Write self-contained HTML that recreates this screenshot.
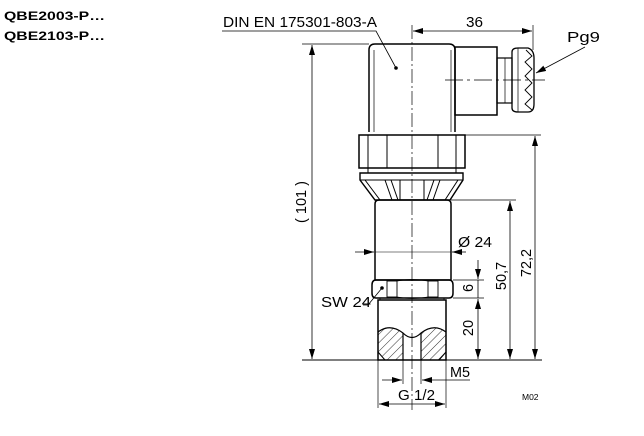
<!DOCTYPE html>
<html><head><meta charset="utf-8"><style>
html,body{margin:0;padding:0;background:#fff;width:644px;height:436px;overflow:hidden}
svg{display:block}
text{font-family:"Liberation Sans",Arial,sans-serif;fill:#000}
</style></head><body>
<svg width="644" height="436" viewBox="0 0 644 436" xmlns="http://www.w3.org/2000/svg">
<defs>
<marker id="a" viewBox="0 0 10 6" refX="10" refY="3" markerWidth="10" markerHeight="6" orient="auto-start-reverse" markerUnits="userSpaceOnUse"><path d="M0,0 L10,3 L0,6 z" fill="#000"/></marker>
<pattern id="h" width="6" height="6" patternUnits="userSpaceOnUse" patternTransform="rotate(45)"><line x1="0" y1="0" x2="0" y2="6" stroke="#000" stroke-width="0.8"/></pattern>
</defs>
<text x="4" y="20" font-size="12" font-weight="bold" textLength="101" lengthAdjust="spacingAndGlyphs">QBE2003-P…</text>
<text x="4" y="40" font-size="12" font-weight="bold" textLength="101" lengthAdjust="spacingAndGlyphs">QBE2103-P…</text>

<g fill="none" stroke="#000" stroke-width="1">
<polyline points="222,31 376,31 396,68" stroke-width="0.8"/>
<line x1="412" y1="25" x2="412" y2="410" stroke-width="0.7" stroke-dasharray="14,3,2,3"/>
<line x1="533" y1="25" x2="533" y2="50" stroke-width="0.7"/>
<line x1="413" y1="31" x2="532" y2="31" stroke-width="0.8" marker-start="url(#a)" marker-end="url(#a)"/>
<path d="M369,132 L369,50 Q369,44 375,44 L449,44 Q455,44 455,50 L455,132" stroke-width="1.5"/>
<line x1="374" y1="50" x2="374" y2="132" stroke-width="0.7"/>
<line x1="451" y1="50" x2="451" y2="132" stroke-width="0.7"/>
<rect x="455" y="47" width="42" height="68" stroke-width="1.5"/>
<rect x="497" y="58" width="15" height="45" stroke-width="1.2"/>
<line x1="505" y1="58" x2="505" y2="103" stroke-width="0.7"/>
<path d="M512,52 Q512,48 518,48 L528,48 Q534,50 534,58 L534,104 Q534,112 528,112 L518,112 Q512,112 512,108 Z" stroke-width="1.3"/>
<path d="M526,50 L532,56 L525,62 L532,69 L525,76 L532,83 L525,90 L532,97 L525,104 L532,110" stroke-width="0.9"/>
<line x1="518" y1="48" x2="518" y2="112" stroke-width="0.7"/>
<line x1="445" y1="80" x2="545" y2="80" stroke-width="0.7" stroke-dasharray="18,4,3,4"/>
<circle cx="396" cy="68" r="1.3" fill="#000"/>
<line x1="585" y1="47" x2="536" y2="73" stroke-width="0.8" marker-end="url(#a)"/>
<rect x="359" y="135" width="106" height="33" stroke-width="1.5"/>
<line x1="368" y1="135" x2="368" y2="168"/>
<line x1="387" y1="135" x2="387" y2="168"/>
<line x1="438" y1="135" x2="438" y2="168"/>
<line x1="456" y1="135" x2="456" y2="168"/>
<rect x="368" y="168" width="88" height="5" stroke-width="1"/>
<path d="M360,173 L463,173 L463,180 L450,200 L375,200 L360,180 Z" stroke-width="1.4"/>
<line x1="360" y1="180" x2="463" y2="180"/>
<line x1="365" y1="180" x2="380" y2="200"/>
<line x1="458" y1="180" x2="445" y2="200"/>
<line x1="385" y1="180" x2="392" y2="200"/>
<line x1="391" y1="180" x2="398" y2="200"/>
<line x1="400" y1="180" x2="400" y2="200"/>
<line x1="424" y1="180" x2="424" y2="200"/>
<line x1="440" y1="180" x2="433" y2="200"/>
<line x1="434" y1="180" x2="427" y2="200"/>
<path d="M375,204 L375,280 L451,280 L451,204 Q451,200 447,200 L379,200 Q375,200 375,204 Z" stroke-width="1.5"/>
<path d="M376,280 L449,280 Q453,280 453,285 L453,293 Q453,298 449,298 L376,298 Q372,298 372,293 L372,285 Q372,280 376,280 Z" stroke-width="1.5"/>
<rect x="387" y="281" width="10" height="16" stroke-width="0.9"/>
<rect x="428" y="281" width="10" height="16" stroke-width="0.9"/>
<path d="M397,281 Q412,278 428,281 M397,297 Q412,300 428,297" stroke-width="0.8"/>
<rect x="380" y="298" width="64" height="2" stroke-width="0.8"/>
<rect x="378" y="300" width="68" height="60" stroke-width="1.5"/>
<path d="M378,332 Q390,323 403,333 Q412,342 421,333 Q434,323 446,332 L446,352 L439,360 L421,360 L421,333 Q412,342 403,333 L403,360 L385,360 L378,352 Z" fill="url(#h)" stroke="none"/>
<path d="M378,332 Q390,323 403,333 Q412,342 421,333 Q434,323 446,332" stroke-width="1.2"/>
<line x1="403" y1="333" x2="403" y2="360" stroke-width="1.2"/>
<line x1="421" y1="333" x2="421" y2="360" stroke-width="1.2"/>
<line x1="378" y1="352" x2="385" y2="360"/>
<line x1="446" y1="352" x2="439" y2="360"/>
<line x1="302" y1="360" x2="542" y2="360" stroke-width="0.9"/>
<line x1="302" y1="44" x2="369" y2="44" stroke-width="0.7"/>
<line x1="312" y1="45" x2="312" y2="359" stroke-width="0.8" marker-start="url(#a)" marker-end="url(#a)"/>
<line x1="465" y1="135" x2="541" y2="135" stroke-width="0.7"/>
<line x1="535" y1="136" x2="535" y2="359" stroke-width="0.8" marker-start="url(#a)" marker-end="url(#a)"/>
<line x1="451" y1="200" x2="516" y2="200" stroke-width="0.7"/>
<line x1="510" y1="201" x2="510" y2="359" stroke-width="0.8" marker-start="url(#a)" marker-end="url(#a)"/>
<line x1="478" y1="260" x2="478" y2="279" stroke-width="0.8" marker-end="url(#a)"/>
<line x1="453" y1="280" x2="484" y2="280" stroke-width="0.7"/>
<line x1="453" y1="298" x2="484" y2="298" stroke-width="0.7"/>
<line x1="478" y1="299" x2="478" y2="359" stroke-width="0.8" marker-start="url(#a)" marker-end="url(#a)"/>
<line x1="478" y1="280" x2="478" y2="298" stroke-width="0.8"/>
<line x1="355" y1="252" x2="374" y2="252" stroke-width="0.8" marker-end="url(#a)"/>
<line x1="466" y1="252" x2="452" y2="252" stroke-width="0.8" marker-end="url(#a)"/>
<line x1="375" y1="252" x2="451" y2="252" stroke-width="0.6"/>
<polyline points="363,305 368,305 382,288" stroke-width="0.8"/>
<circle cx="382" cy="288" r="1.3" fill="#000"/>
<line x1="403" y1="360" x2="403" y2="384" stroke-width="0.7"/>
<line x1="421" y1="360" x2="421" y2="384" stroke-width="0.7"/>
<line x1="382" y1="380" x2="402" y2="380" stroke-width="0.8" marker-end="url(#a)"/>
<line x1="470" y1="380" x2="422" y2="380" stroke-width="0.8" marker-end="url(#a)"/>
<line x1="378" y1="360" x2="378" y2="408" stroke-width="0.7"/>
<line x1="446" y1="360" x2="446" y2="408" stroke-width="0.7"/>
<line x1="379" y1="404" x2="445" y2="404" stroke-width="0.8" marker-start="url(#a)" marker-end="url(#a)"/>
</g>

<text x="223" y="27" font-size="14.5" textLength="154" lengthAdjust="spacingAndGlyphs">DIN EN 175301-803-A</text>
<text x="466" y="27" font-size="14.5" textLength="17" lengthAdjust="spacingAndGlyphs">36</text>
<text x="567" y="42" font-size="14.5" textLength="33" lengthAdjust="spacingAndGlyphs">Pg9</text>
<text x="458" y="247" font-size="14.5" textLength="34" lengthAdjust="spacingAndGlyphs">Ø 24</text>
<text x="321" y="307" font-size="14.5" textLength="50" lengthAdjust="spacingAndGlyphs">SW 24</text>
<text x="450" y="377" font-size="14.5" textLength="20" lengthAdjust="spacingAndGlyphs">M5</text>
<text x="398" y="400" font-size="14.5" textLength="37" lengthAdjust="spacingAndGlyphs">G 1/2</text>
<text x="522" y="400" font-size="8.5">M02</text>
<text font-size="14.5" transform="translate(306,202) rotate(-90)" text-anchor="middle">( 101 )</text>
<text font-size="14.5" transform="translate(531,263) rotate(-90)" text-anchor="middle">72,2</text>
<text font-size="14.5" transform="translate(506,276) rotate(-90)" text-anchor="middle">50,7</text>
<text font-size="14.5" transform="translate(473,288) rotate(-90)" text-anchor="middle">6</text>
<text font-size="14.5" transform="translate(473,328) rotate(-90)" text-anchor="middle">20</text>
</svg>
</body></html>
